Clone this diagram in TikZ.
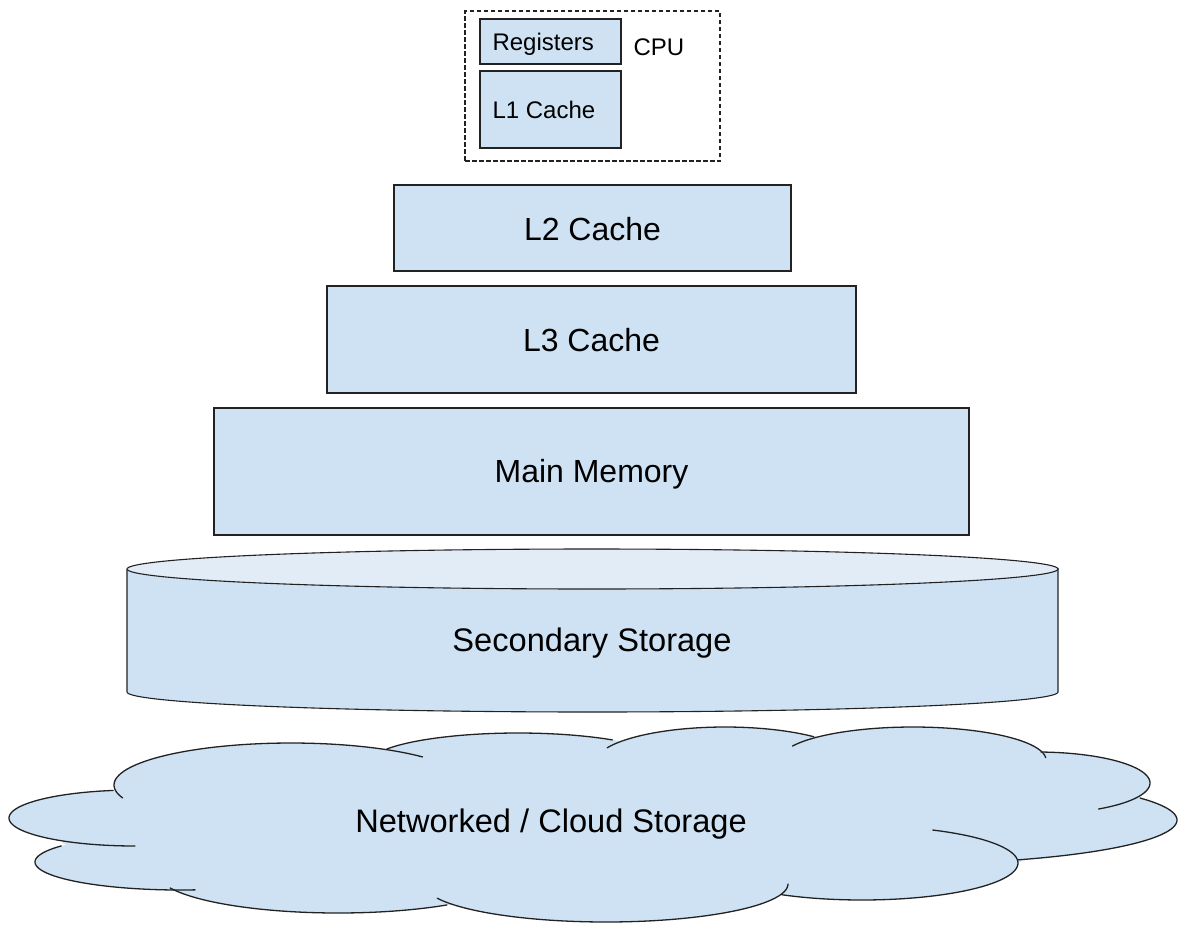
\documentclass[tikz,border=0pt]{standalone}
\usepackage{fontspec}
\setmainfont{Liberation Sans}
\definecolor{boxblue}{RGB}{207,226,243}
\definecolor{toplight}{RGB}{226,236,247}
\definecolor{edge}{RGB}{34,34,34}
\newcommand\cloudfill[4]{\fill[boxblue] plot[domain=0:360,samples=90] ({#1+#3*cos(\x)},{#2+#4*sin(\x)}) -- cycle;}
\newcommand\cloudarc[6]{\draw[cloudline] plot[domain=#5:#6,samples=60] ({#1+#3*cos(\x)},{#2+#4*sin(\x)});}
\begin{document}
\begin{tikzpicture}[x=1pt,y=-1pt,
  box/.style={draw=edge, fill=boxblue, line width=1.1pt, inner sep=0pt},
  bigtext/.style={font=\fontsize{32}{38}\selectfont, anchor=base},
  bigtextb/.style={font=\fontsize{32.6}{38}\selectfont, anchor=base},
  smalltext/.style={font=\fontsize{24}{28}\selectfont, anchor=base west},
  cloudline/.style={draw=edge, line width=1.3pt, line cap=round},
  cpubox/.style={draw=edge, dash pattern=on 4.5pt off 2.5pt, line width=1.1pt, inner sep=0pt}]
\useasboundingbox (0,0) rectangle (1178,924);

% CPU group
\node[cpubox, minimum width=255pt, minimum height=150pt] (cpu) at (592.5,86) {};
\node[box, minimum width=141pt, minimum height=45pt] (reg) at (550.5,41.5) {};
\node[box, minimum width=141pt, minimum height=77pt] (l1) at (550.5,109.5) {};
\node[smalltext] (regt) at (489,50) {Registers};
\node[smalltext] (l1t) at (489,118) {L1 Cache};
\node[smalltext] (cput) at (630,55) {CPU};

% Caches and memory
\node[box, minimum width=397pt, minimum height=86pt] (l2) at (592.5,228) {};
\node[bigtext] (l2t) at (592.5,240.5) {L2 Cache};
\node[box, minimum width=529pt, minimum height=107pt] (l3) at (591.5,339.5) {};
\node[bigtext] (l3t) at (591.5,351.5) {L3 Cache};
\node[box, minimum width=755pt, minimum height=127pt] (mem) at (591.5,471.5) {};
\node[bigtext] (memt) at (591.5,482.5) {Main Memory};

% Secondary storage cylinder
\fill[boxblue] (127,569) -- (127,692) -- plot[domain=180:0,samples=80] ({592.5+465.5*cos(\x)},{692+20*sin(\x)}) -- (1058,569) -- cycle;
\draw[draw=edge, line width=1.1pt] (127,569) -- (127,692) -- plot[domain=180:0,samples=80] ({592.5+465.5*cos(\x)},{692+20*sin(\x)}) -- (1058,569);
\filldraw[fill=toplight, draw=edge, line width=1.1pt] plot[domain=0:360,samples=120] ({592.5+465.5*cos(\x)},{569+20*sin(\x)}) -- cycle;
\node[bigtextb] (sec) at (592,651.5) {Secondary Storage};

% Cloud
\fill[boxblue] (115,791) -- (388,749) -- (613,741) -- (813,736) -- (1043,753) -- (1140,798) -- (1018,863) -- (782,893) -- (447,905) -- (170,888) -- (62,843) -- cycle;
\cloudfill{291}{785}{177}{42}
\cloudfill{518}{764}{150}{31}
\cloudfill{725}{763}{130}{36}
\cloudfill{913}{760}{133}{33}
\cloudfill{1037}{783}{113}{31}
\cloudfill{901}{820}{276}{44}
\cloudfill{862}{863}{156}{37}
\cloudfill{606}{884}{182}{38}
\cloudfill{338}{873}{181}{40}
\cloudfill{180}{862}{145}{28}
\cloudfill{135}{818}{126}{28}
\cloudarc{291}{785}{177}{42}{162}{318}
\cloudarc{518}{764}{150}{31}{209}{309}
\cloudarc{725}{763}{130}{36}{205}{313}
\cloudarc{913}{760}{133}{33}{205}{356}
\cloudarc{1037}{783}{113}{31}{272}{417}
\cloudarc{901}{820}{276}{44}{-30}{65}
\cloudarc{862}{863}{156}{37}{-63}{121}
\cloudarc{606}{884}{182}{38}{0}{158}
\cloudarc{338}{873}{181}{40}{53}{158}
\cloudarc{180}{862}{145}{28}{84}{215}
\cloudarc{135}{818}{126}{28}{90}{260}
\node[bigtextb] (cloud) at (551,832.5) {Networked / Cloud Storage};
\end{tikzpicture}
\end{document}
